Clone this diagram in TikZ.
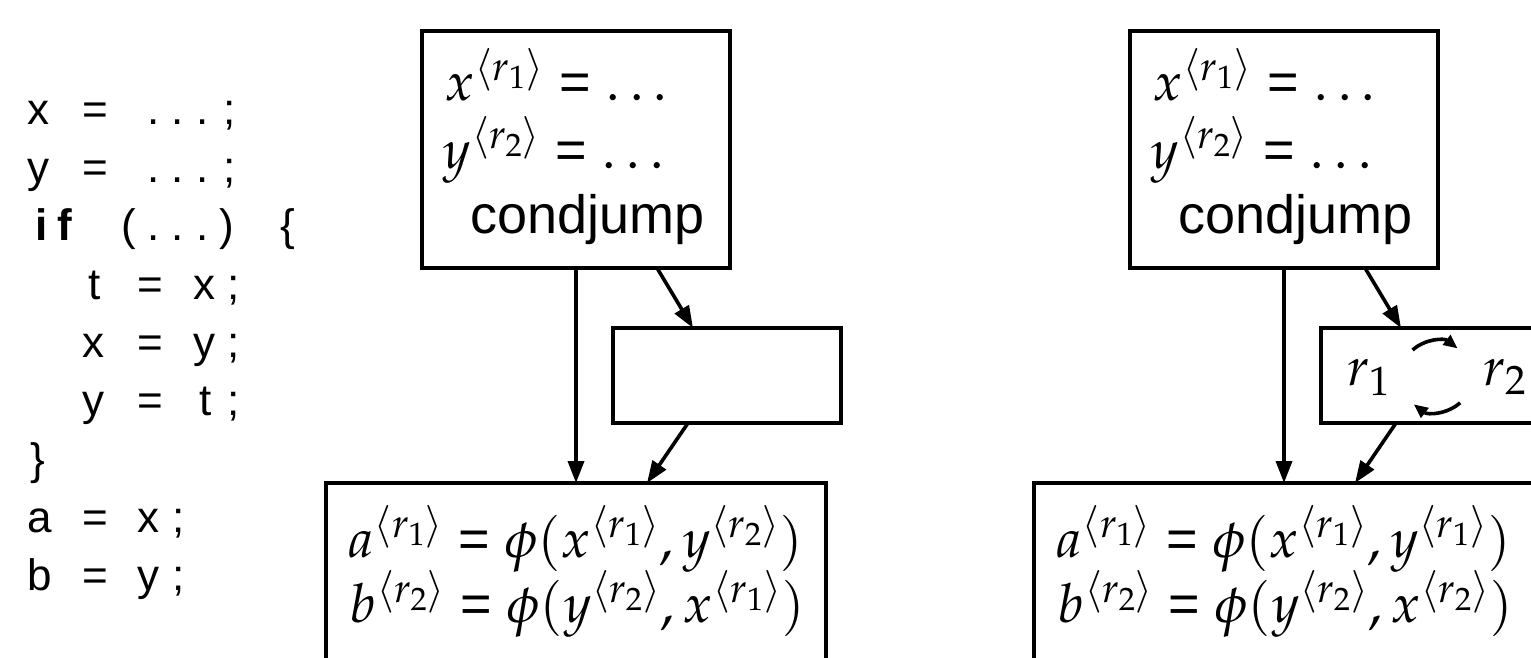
\documentclass[tikz,border=0pt]{standalone}
\usepackage{mathpazo}
\usepackage[no-math]{fontspec}
\setmainfont{Liberation Sans}
\usetikzlibrary{arrows.meta,calc}
\newcommand\cc[2]{\makebox[0pt][l]{\hspace*{#1pt}\makebox[0pt][c]{#2}}}
\newcommand\eqs{\mathrel{\mbox{=}}}
\begin{document}
\begin{tikzpicture}[x=1pt,y=-1pt,
  box/.style={draw, line width=3.6pt, inner sep=0pt, outer sep=0pt},
  arr/.style={line width=3.6pt, -{Triangle[length=22pt,width=16pt]}},
  ringarr/.style={line width=3.6pt, -{Triangle[length=14pt,width=12pt]}},
  code/.style={inner sep=0pt, anchor=base west, font=\fontsize{44}{50}\selectfont},
  mtext/.style={inner sep=0pt, anchor=base west, font=\fontsize{54}{60}\selectfont},
  cj/.style={inner sep=0pt, anchor=base west, font=\fontsize{54}{60}\selectfont}]
\useasboundingbox (0,0) rectangle (1531,657);
\clip (0,0) rectangle (1531,657);

% code listing
\node[code] (l1) at (0,124) {\cc{38}{x}\cc{95}{=}\cc{153}{.}\cc{177}{.}\cc{202}{.}\cc{229}{;}};
\node[code] (l2) at (0,182) {\cc{38}{y}\cc{95}{=}\cc{153}{.}\cc{177}{.}\cc{202}{.}\cc{229}{;}};
\node[code] (l3) at (0,240) {\cc{40.5}{\bfseries i}\cc{64}{\bfseries f}\cc{128}{(}\cc{153}{.}\cc{177}{.}\cc{202}{.}\cc{226}{)}\cc{287.5}{\{}};
\node[code] (l4) at (0,299) {\cc{94}{t}\cc{150}{=}\cc{204}{x}\cc{233}{;}};
\node[code] (l5) at (0,357) {\cc{93}{x}\cc{150}{=}\cc{204}{y}\cc{233}{;}};
\node[code] (l6) at (0,415) {\cc{93}{y}\cc{150}{=}\cc{205}{t}\cc{233}{;}};
\node[code] (l7) at (0,474) {\cc{37.5}{\}}};
\node[code] (l8) at (0,532) {\cc{39}{a}\cc{95}{=}\cc{148}{x}\cc{178}{;}};
\node[code] (l9) at (0,590) {\cc{39}{b}\cc{95}{=}\cc{148}{y}\cc{178}{;}};

% left diagram
\node[box, minimum width=308pt, minimum height=237pt] (top1) at (576,149.5) {};
\node[box, minimum width=228pt, minimum height=95pt] (mid1) at (727,375.5) {};
\node[box, minimum width=500pt, minimum height=240pt] (bot1) at (576,603) {};
\node[mtext] (t1a) at (445,100) {$x^{\langle r_1\rangle} \eqs \ldots$};
\node[mtext] (t1b) at (443,168) {$y^{\langle r_2\rangle} \eqs \ldots$};
\node[cj] (t1c) at (470,233) {condjump};
\node[mtext] (b1a) at (348,557) {$a^{\langle r_1\rangle} \eqs \phi(x^{\langle r_1\rangle}, y^{\langle r_2\rangle})$};
\node[mtext] (b1b) at (350,622) {$b^{\langle r_2\rangle} \eqs \phi(y^{\langle r_2\rangle}, x^{\langle r_1\rangle})$};
\draw[arr] (top1.south) -- (bot1.north);
\draw[arr] ([xshift=81pt]top1.south) -- ([xshift=-34pt]mid1.north);
\draw[arr] ([xshift=-39pt]mid1.south) -- ([xshift=71pt]bot1.north);

% right diagram
\node[box, minimum width=308pt, minimum height=237pt] (top2) at (1284,149.5) {};
\node[box, minimum width=228pt, minimum height=95pt] (mid2) at (1435,375.5) {};
\node[box, minimum width=500pt, minimum height=240pt] (bot2) at (1284,603) {};
\node[mtext] (t2a) at (1153,100) {$x^{\langle r_1\rangle} \eqs \ldots$};
\node[mtext] (t2b) at (1151,168) {$y^{\langle r_2\rangle} \eqs \ldots$};
\node[cj] (t2c) at (1178,233) {condjump};
\node[mtext] (b2a) at (1056,557) {$a^{\langle r_1\rangle} \eqs \phi(x^{\langle r_1\rangle}, y^{\langle r_1\rangle})$};
\node[mtext] (b2b) at (1058,622) {$b^{\langle r_2\rangle} \eqs \phi(y^{\langle r_2\rangle}, x^{\langle r_2\rangle})$};
\node[mtext] (r1) at (1347,385) {$r_1$};
\node[mtext] (r2) at (1483,385) {$r_2$};
\coordinate (ring) at (1436,376);
\draw[ringarr] (ring) ++(-132:35) arc[start angle=-132, end angle=-52, radius=35];
\draw[ringarr] (ring) ++(48:36) arc[start angle=48, end angle=128, radius=36];
\draw[arr] (top2.south) -- (bot2.north);
\draw[arr] ([xshift=81pt]top2.south) -- ([xshift=-34pt]mid2.north);
\draw[arr] ([xshift=-39pt]mid2.south) -- ([xshift=71pt]bot2.north);
\end{tikzpicture}
\end{document}
